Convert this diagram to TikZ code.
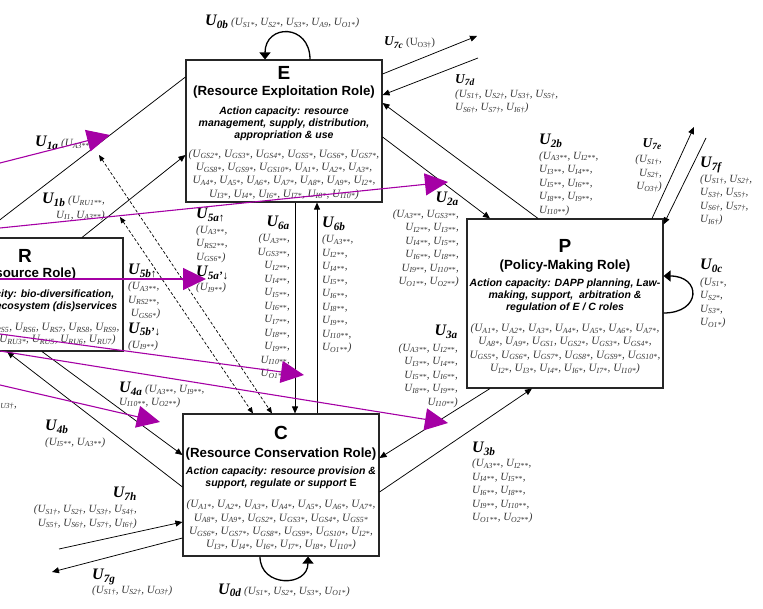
\documentclass[tikz,border=0pt]{standalone}
\usepackage{fontspec}
\setmainfont{Liberation Serif}
\setsansfont{Liberation Sans}
\usetikzlibrary{arrows.meta,positioning}

\definecolor{lever}{RGB}{165,0,165}
\definecolor{ink}{RGB}{55,55,55}

% U with a subscript, as in the parameter lists
\newcommand{\Us}[1]{U\textsubscript{#1}}
% bold flow names
\newcommand{\Uh}[1]{{\color{black}\fontsize{16}{16}\selectfont\bfseries\itshape U\textsubscript{#1}}}
\newcommand{\Uhs}[1]{{\color{black}\fontsize{13.5}{14}\selectfont\bfseries\itshape U\textsubscript{#1}}}
% fonts inside the role boxes
\newcommand{\rolekey}{\color{black}\fontsize{19}{19}\selectfont\sffamily\bfseries\upshape}
\newcommand{\rolename}{\color{black}\fontsize{13.3}{14}\selectfont\sffamily\bfseries\upshape}
\newcommand{\rolecap}{\color{black}\fontsize{10.5}{12}\selectfont\sffamily\bfseries\itshape}

\begin{document}
\begin{tikzpicture}[x=1pt,y=-1pt,
  role/.style={draw=black!85, line width=1.1pt, fill=white, minimum width=196pt, inner sep=0pt},
  roletext/.style={anchor=north, align=center, inner sep=0pt, text=ink, font=\fontsize{11.2}{13.3}\selectfont\itshape},
  flow/.style={line width=0.75pt, -{Triangle[length=7pt,width=6pt]}},
  twoway/.style={line width=0.7pt, dash pattern=on 3pt off 2pt, {Triangle[length=6pt,width=5pt]}-{Triangle[length=6pt,width=5pt]}},
  lever/.style={draw=lever, line width=1.1pt, -{Triangle[length=23pt,width=22pt]}},
  selfloop/.style={line width=1.3pt, -{Triangle[length=7pt,width=11pt]}},
  lbl/.style={inner sep=0pt, text=ink, font=\fontsize{11}{13.5}\selectfont\itshape}]
\useasboundingbox (0,0) rectangle (763,609);
\clip (0,0) rectangle (763,609);

% the four roles
\node[role, minimum height=142pt] (E) at (284,131) {};
\node[role, minimum height=169pt] (P) at (565,303.5) {};
\node[role, minimum height=142pt] (C) at (281,485) {};
\node[role, minimum height=113pt] (R) at (25,294.5) {};

\node[roletext] (Etxt) at (284,66) {{\rolekey E}\\[2.7pt]
{\rolename (Resource Exploitation Role)}\\[5.7pt]
{\rolecap Action capacity: resource}\\[-1.3pt]
{\rolecap management, supply, distribution,}\\[-1.3pt]
{\rolecap appropriation \& use}\\[5.7pt]
(\Us{GS2*}, \Us{GS3*}, \Us{GS4*}, \Us{GS5*}, \Us{GS6*}, \Us{GS7*},\\
\Us{GS8*}, \Us{GS9*}, \Us{GS10*}, \Us{A1*}, \Us{A2*}, \Us{A3*},\\
\Us{A4*}, \Us{A5*}, \Us{A6*}, \Us{A7*}, \Us{A8*}, \Us{A9*}, \Us{I2*},\\
\Us{I3*}, \Us{I4*}, \Us{I6*}, \Us{I7*}, \Us{I8*}, \Us{I10*})};

\node[roletext] (Ptxt) at (565,239.4) {{\rolekey P}\\[3.7pt]
{\rolename (Policy-Making Role)}\\[3.7pt]
{\rolecap Action capacity: DAPP planning, Law-}\\[-1.3pt]
{\rolecap making, support,\ \ arbitration \&}\\[-1.3pt]
{\rolecap regulation of E / C roles}\\[7.7pt]
(\Us{A1*}, \Us{A2*}, \Us{A3*}, \Us{A4*}, \Us{A5*}, \Us{A6*}, \Us{A7*},\\
\Us{A8*}, \Us{A9*}, \Us{GS1}, \Us{GS2*}, \Us{GS3*}, \Us{GS4*},\\
\Us{GS5*}, \Us{GS6*}, \Us{GS7*}, \Us{GS8*}, \Us{GS9*}, \Us{GS10*},\\
\Us{I2*}, \Us{I3*}, \Us{I4*}, \Us{I6*}, \Us{I7*}, \Us{I10*})};

\node[roletext] (Ctxt) at (281,426.4) {{\rolekey C}\\[4.7pt]
{\rolename (Resource Conservation Role)}\\[3.7pt]
{\rolecap Action capacity: resource provision \&}\\[-1.3pt]
{\rolecap support, regulate or support \upshape E}\\[7.7pt]
(\Us{A1*}, \Us{A2*}, \Us{A3*}, \Us{A4*}, \Us{A5*}, \Us{A6*}, \Us{A7*},\\
\Us{A8*}, \Us{A9*}, \Us{GS2*}, \Us{GS3*}, \Us{GS4*}, \Us{GS5*}\\
\Us{GS6*}, \Us{GS7*}, \Us{GS8*}, \Us{GS9*}, \Us{GS10*}, \Us{I2*},\\
\Us{I3*}, \Us{I4*}, \Us{I6*}, \Us{I7*}, \Us{I8*}, \Us{I10*})};

\node[roletext] (Rtxt) at (25,249.5) {{\rolekey R}\\[1.7pt]
{\rolename (Resource Role)}\\[6.7pt]
{\rolecap Action capacity: bio-diversification,}\\[-1.3pt]
{\rolecap provision of ecosystem (dis)services}\\[7.7pt]
(\Us{RS3}, \Us{RS4}, \Us{RS5}, \Us{RS6}, \Us{RS7}, \Us{RS8}, \Us{RS9},\\[-1.3pt]
\Us{RU1*}, \Us{RU2*}, \Us{RU3*}, \Us{RU5}, \Us{RU6}, \Us{RU7})};

% flow labels
\node[lbl, anchor=base west] (l0b) at (205,26) {\Uh{0b} (\Us{S1*}, \Us{S2*}, \Us{S3*}, \Us{A9}, \Us{O1*})};
\node[lbl, anchor=base west] (l7c) at (384,46) {\Uhs{7c} \upshape(\Us{O3†})};
\node[lbl, anchor=north west, align=left] (l7d) at (455,74) {\Uhs{7d}\\[0.5pt]
(\Us{S1†}, \Us{S2†}, \Us{S3†}, \Us{S5†},\\ \Us{S6†}, \Us{S7†}, \Us{I6†})};
\node[lbl, anchor=north west, align=left] (l2b) at (539,134) {\Uh{2b}\\[1pt]
(\Us{A3**}, \Us{I2**},\\ \Us{I3**}, \Us{I4**},\\ \Us{I5**}, \Us{I6**},\\ \Us{I8**}, \Us{I9**},\\ \Us{I10**})};
\node[lbl, anchor=north east, align=right] (l2a) at (459,192) {\Uh{2a}\\[1pt]
(\Us{A3**}, \Us{GS3**},\\ \Us{I2**}, \Us{I3**},\\ \Us{I4**}, \Us{I5**},\\ \Us{I6**}, \Us{I8**},\\ \Us{I9**}, \Us{I10**},\\ \Us{O1**}, \Us{O2**})};
\node[lbl, anchor=north east, align=right] (l7e) at (662,138) {\Uhs{7e}\\[2pt]
(\Us{S1†},\\ \Us{S2†},\\ \Us{O3†})};
\node[lbl, anchor=north west, align=left] (l7f) at (700,157) {\Uh{7f}\\[1pt]
(\Us{S1†}, \Us{S2†},\\ \Us{S3†}, \Us{S5†},\\ \Us{S6†}, \Us{S7†},\\ \Us{I6†})};
\node[lbl, anchor=north west, align=left] (l0c) at (700,259) {\Uh{0c}\\[2pt]
(\Us{S1*},\\ \Us{S2*},\\ \Us{S3*},\\ \Us{O1*})};
\node[lbl, anchor=north east, align=right] (l3a) at (458,325) {\Uh{3a}\\[2pt]
(\Us{A3**}, \Us{I2**},\\ \Us{I3**}, \Us{I4**},\\ \Us{I5**}, \Us{I6**},\\ \Us{I8**}, \Us{I9**},\\ \Us{I10**})};
\node[lbl, anchor=north west, align=left] (l3b) at (472,442) {\Uh{3b}\\[0.5pt]
(\Us{A3**}, \Us{I2**},\\ \Us{I4**}, \Us{I5**},\\ \Us{I6**}, \Us{I8**},\\ \Us{I9**}, \Us{I10**},\\ \Us{O1**}, \Us{O2**})};
\node[lbl, anchor=base west] (l0d) at (218,594) {\Uh{0d} (\Us{S1*}, \Us{S2*}, \Us{S3*}, \Us{O1*})};
\node[lbl, anchor=north east, align=right] (l7h) at (137,487) {\Uh{7h}\\[1.5pt]
(\Us{S1†}, \Us{S2†}, \Us{S3†},\ \Us{S4†},\\ \Us{S5†}, \Us{S6†}, \Us{S7†}, \Us{I6†})};
\node[lbl, anchor=north west, align=left] (l7g) at (92,569) {\Uh{7g}\\[0pt]
(\Us{S1†}, \Us{S2†}, \Us{O3†})};
\node[lbl, anchor=north west, align=left] (l4a) at (119,382) {\Uh{4a} (\Us{A3**}, \Us{I9**},\\[-1pt] \Us{I10**}, \Us{O2**})};
\node[lbl, anchor=north west, align=left] (l4b) at (45,420) {\Uh{4b}\\[1pt] (\Us{I5**}, \Us{A3**})};
\node[lbl, anchor=base west] (l1a) at (35,147) {\Uh{1a} (\Us{A3**})};
\node[lbl, anchor=north east, align=right] (l1b) at (105,193) {\Uh{1b} (\Us{RU1**},\\[1pt] \Us{I1}, \Us{A3**})};
\node[lbl, anchor=north west, align=left] (l5a) at (196,208) {\Uh{5a\textmd{↑}}\\[1pt]
(\Us{A3**},\\ \Us{RS2**},\\ \Us{GS6*})\\[3pt]
\Uh{5a’\textmd{↓}}\\[0.5pt]
(\Us{I9**})};
\node[lbl, anchor=north west, align=left] (l5b) at (128,264) {\Uh{5b\textmd{↑}}\\[1.5pt]
(\Us{A3**},\\ \Us{RS2**},\\ \ \Us{GS6*})\\[3pt]
\Uh{5b’\textmd{↓}}\\[1.5pt]
(\Us{I9**})};
\node[lbl, anchor=north east, align=right] (l6a) at (290,216) {\Uh{6a}\\[1.5pt]
(\Us{A3**},\\ \Us{GS3**},\\ \Us{I2**},\\ \Us{I4**},\\ \Us{I5**},\\ \Us{I6**},\\ \Us{I7**},\\ \Us{I8**},\\ \Us{I9**},\\ \Us{I10**},\\ \Us{O1**})};
\node[lbl, anchor=north west, align=left] (l6b) at (322,217) {\Uh{6b}\\[1.5pt]
(\Us{A3**},\\ \Us{I2**},\\ \Us{I4**},\\ \Us{I5**},\\ \Us{I6**},\\ \Us{I8**},\\ \Us{I9**},\\ \Us{I10**},\\ \Us{O1**})};
\node[lbl, anchor=base east] (lRU) at (17,407) {(\Us{RU1†}, \Us{RU3†},};

% free ends
\coordinate (c7c) at (477,36);
\coordinate (c7d) at (478,58);
\coordinate (c7e) at (694,127);
\coordinate (c7f) at (706,138);
\coordinate (c7h) at (59,549);
\coordinate (c7g) at (52,572);
\coordinate (d1) at (99,155);
\coordinate (d2) at (120,217);

% flows between the roles
\draw[flow] ([yshift=57pt]E.east) -- (c7c);
\draw[flow] (c7d) -- ([yshift=36pt]E.east);
\draw[flow] ([xshift=-27pt]P.north) -- ([yshift=28pt]E.east);
\draw[flow] ([yshift=-6pt]E.east) -- ([xshift=-75pt]P.north);
\draw[flow] ([xshift=87pt]P.north) -- (c7e);
\draw[flow] (c7f) -- ([yshift=-6pt]P.north east);
\draw[flow] ([xshift=-75pt]P.south) -- ([yshift=27pt]C.east);
\draw[flow] ([yshift=-7pt]C.east) -- ([xshift=-33pt]P.south);
\draw[flow] (c7h) -- ([yshift=-37pt]C.west);
\draw[flow] ([yshift=-53pt]C.west) -- (c7g);
\draw[flow] ([xshift=11pt]E.south) -- ([xshift=14pt]C.north);
\draw[flow] ([xshift=36pt]C.north) -- ([xshift=33pt]E.south);
\draw[line width=0.75pt] ([xshift=-48pt]R.north) -- ([yshift=54pt]E.west);
\draw[flow] ([xshift=57pt]R.north) -- ([yshift=-24pt]E.west);
\draw[flow] ([xshift=17pt]R.south) -- ([yshift=30pt]C.west);
\draw[flow] ([yshift=-2pt]C.west) -- ([xshift=-18pt]R.south);
\draw[twoway] (d1) -- ([xshift=-9pt]C.north);
\draw[twoway] (d2) -- ([xshift=-28pt]C.north);

% self loops
\draw[selfloop] ([xshift=26pt]E.north) .. controls +(0,-36) and +(0,-36) .. ([xshift=-19pt]E.north);
\draw[selfloop] ([yshift=-9.5pt]P.east) .. controls +(38,0) and +(38,0) .. ([yshift=27.5pt]P.east);
\draw[selfloop] ([xshift=-21pt]C.south) .. controls +(0,31) and +(0,31) .. ([xshift=27pt]C.south);

% levers
\coordinate (m1) at (0,163);   \coordinate (m1t) at (110,135);
\coordinate (m2) at (0,228);   \coordinate (m2t) at (448,182);
\coordinate (m3) at (0,279);   \coordinate (m3t) at (206,279);
\coordinate (m4) at (0,334);   \coordinate (m4t) at (304,375);
\coordinate (m5) at (0,351);   \coordinate (m5t) at (448,423);
\coordinate (m6) at (0,385);   \coordinate (m6t) at (160,422);
\foreach \s/\t in {m1/m1t,m2/m2t,m3/m3t,m4/m4t,m5/m5t,m6/m6t}
  \draw[lever] (\s) -- (\t);
\end{tikzpicture}
\end{document}
